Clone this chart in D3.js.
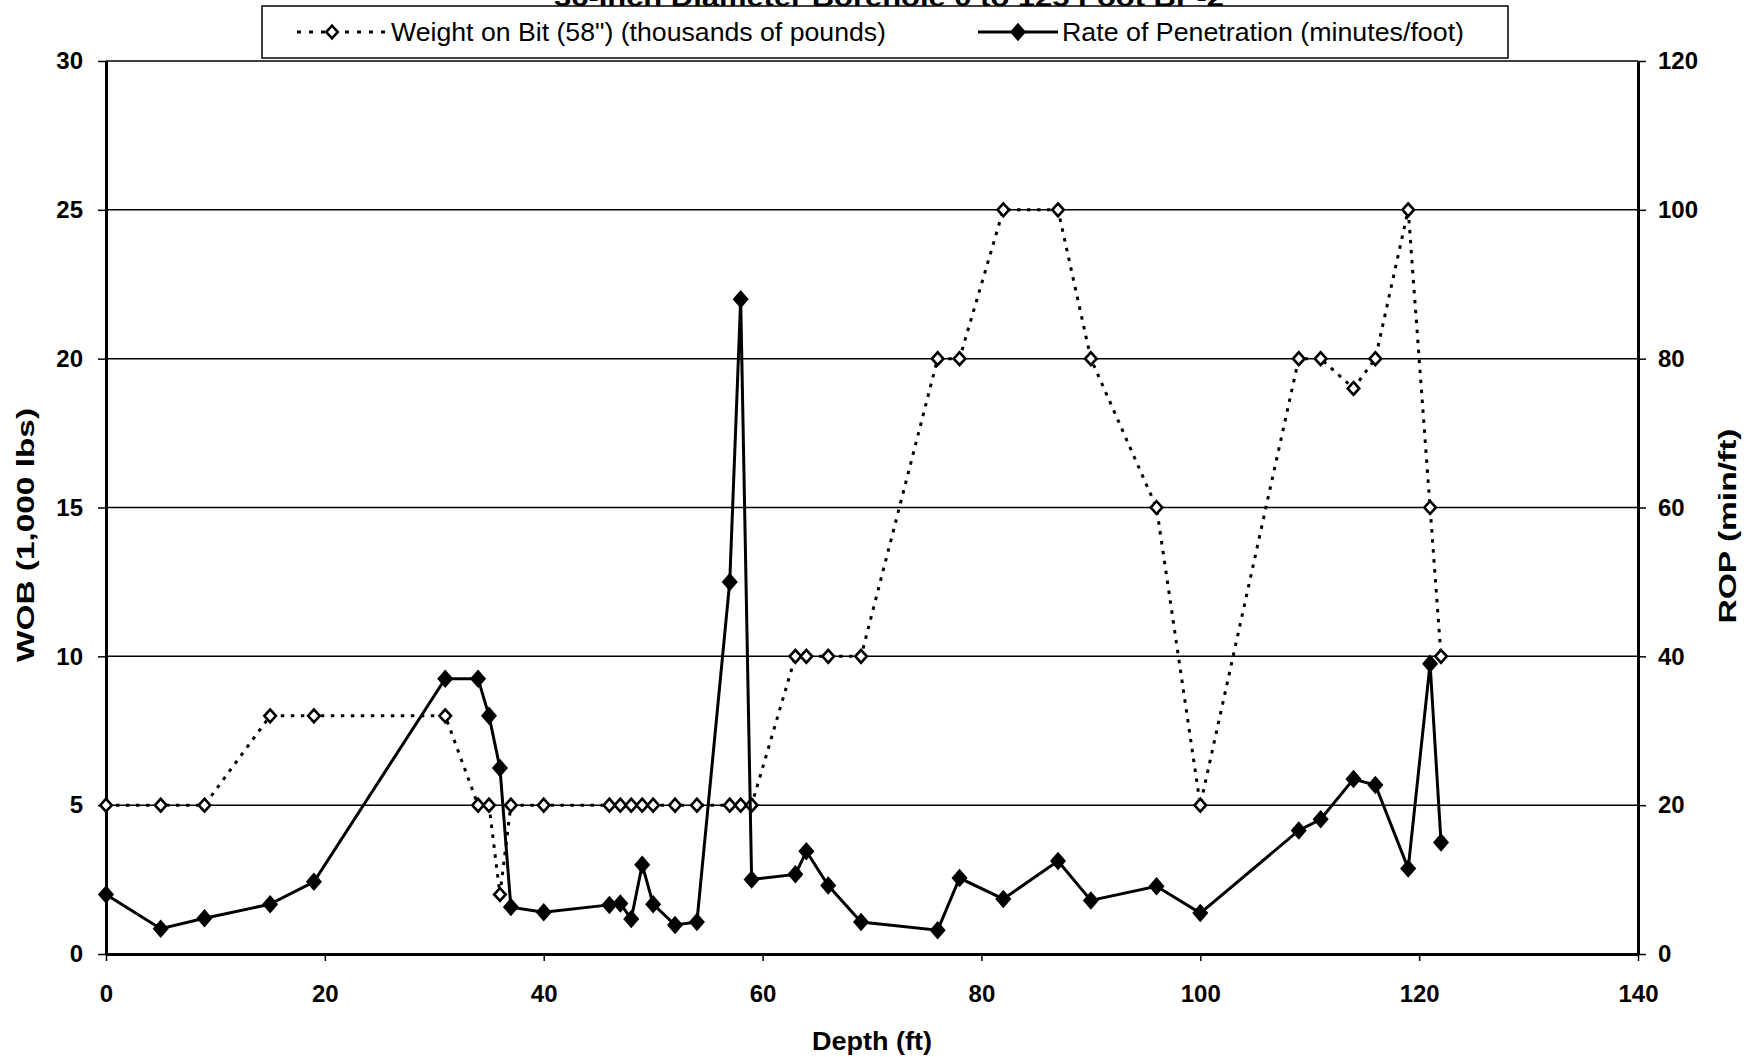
<!DOCTYPE html>
<html>
<head>
<meta charset="utf-8">
<script src="https://cdn.jsdelivr.net/npm/d3@7"></script>
<style>
  body { margin: 0; background: #fff; }
  svg { display: block; font-family: "Liberation Sans", Arial, sans-serif; }
  .grid line { stroke: #000; stroke-width: 1.5; }
  .axis path, .axis line { stroke: #000; }
  .axis path { stroke-width: 3; }
  .axis line { stroke-width: 1.5; }
  .axis text { font-size: 24px; font-weight: bold; fill: #000; font-family: "Liberation Sans", Arial, sans-serif; }
  .title { font-size: 24px; font-weight: bold; }
  .legend text { font-size: 25px; }
</style>
</head>
<body>
<script>
// Depth (ft) for both series
const depth = [0, 5, 9, 15, 19, 31, 34, 35, 36, 37, 40, 46, 47, 48, 49, 50, 52, 54, 57, 58, 59,
  63, 64, 66, 69, 76, 78, 82, 87, 90, 96, 100, 109, 111, 114, 116, 119, 121, 122];

// Weight on bit (1,000 lbs) - left axis
const wob = [5, 5, 5, 8, 8, 8, 5, 5, 2, 5, 5, 5, 5, 5, 5, 5, 5, 5, 5, 5, 5,
  10, 10, 10, 10, 20, 20, 25, 25, 20, 15, 5, 20, 20, 19, 20, 25, 15, 10];

// Rate of penetration (min/ft) - right axis
const rop = [8, 3.4, 4.8, 6.7, 9.7, 37, 37, 32, 25, 6.3, 5.6, 6.6, 6.8, 4.7, 12, 6.7, 3.9, 4.3, 50, 88, 10,
  10.7, 13.8, 9.2, 4.3, 3.2, 10.2, 7.4, 12.5, 7.2, 9.1, 5.5, 16.6, 18.1, 23.5, 22.7, 11.5, 39, 15];

const xTicks = [0, 20, 40, 60, 80, 100, 120, 140];
const wobTicks = [0, 5, 10, 15, 20, 25, 30];
const ropTicks = [0, 20, 40, 60, 80, 100, 120];

const titleText = "36-Inch Diameter Borehole 0 to 125 Foot BP-2";
const seriesNames = ["Weight on Bit (58\") (thousands of pounds)", "Rate of Penetration (minutes/foot)"];

const width = 1747, height = 1057;
const plotLeft = 106, plotRight = 1638, plotTop = 61, plotBottom = 954;

let svg = d3.select("body").append("svg")
    .attr("width", width)
    .attr("height", height);

const x = d3.scaleLinear().domain([0, 140]).range([plotLeft, plotRight]);
const yL = d3.scaleLinear().domain([0, 30]).range([plotBottom, plotTop]);
const yR = d3.scaleLinear().domain([0, 120]).range([plotBottom, plotTop]);

// Title (cut off at the top edge, as in the scan)
svg.append("text")
    .attr("class", "title")
    .attr("x", 889)
    .attr("y", 6)
    .attr("text-anchor", "middle")
    .attr("textLength", 670)
    .attr("lengthAdjust", "spacingAndGlyphs")
    .text(titleText);

// Gridlines
svg.append("g")
    .attr("class", "grid")
    .selectAll("line")
    .data(wobTicks.filter(d => d > 0))
    .join("line")
    .attr("x1", plotLeft)
    .attr("x2", plotRight)
    .attr("y1", d => yL(d))
    .attr("y2", d => yL(d));

// Axes
svg.append("g")
    .attr("class", "axis")
    .attr("transform", `translate(0,${plotBottom})`)
    .call(d3.axisBottom(x).tickValues(xTicks).tickSize(7).tickPadding(24).tickSizeOuter(0));

svg.append("g")
    .attr("class", "axis")
    .attr("transform", `translate(${plotLeft},0)`)
    .call(d3.axisLeft(yL).tickValues(wobTicks).tickSize(8).tickPadding(15).tickSizeOuter(0));

svg.append("g")
    .attr("class", "axis")
    .attr("transform", `translate(${plotRight},0)`)
    .call(d3.axisRight(yR).tickValues(ropTicks).tickSize(8).tickPadding(12).tickSizeOuter(0));

// Axis titles
svg.append("text")
    .attr("x", 872)
    .attr("y", 1050)
    .attr("text-anchor", "middle")
    .attr("font-size", 25)
    .attr("font-weight", "bold")
    .attr("textLength", 120)
    .attr("lengthAdjust", "spacingAndGlyphs")
    .text("Depth (ft)");

svg.append("text")
    .attr("transform", "translate(34,535) rotate(-90)")
    .attr("text-anchor", "middle")
    .attr("font-size", 24)
    .attr("font-weight", "bold")
    .attr("textLength", 254)
    .attr("lengthAdjust", "spacingAndGlyphs")
    .text("WOB (1,000 lbs)");

svg.append("text")
    .attr("transform", "translate(1736,526) rotate(-90)")
    .attr("text-anchor", "middle")
    .attr("font-size", 24)
    .attr("font-weight", "bold")
    .attr("textLength", 195)
    .attr("lengthAdjust", "spacingAndGlyphs")
    .text("ROP (min/ft)");

const diamond = d3.symbol().type(d3.symbolDiamond2);
const dotted = "3.5,6.5";

// WOB series: dotted line, open diamonds
const wobPts = depth.map((d, i) => [d, wob[i]]);
svg.append("path")
    .datum(wobPts)
    .attr("fill", "none")
    .attr("stroke", "#000")
    .attr("stroke-width", 3)
    .attr("stroke-dasharray", dotted)
    .attr("d", d3.line().x(d => x(d[0])).y(d => yL(d[1])));

svg.append("g")
    .selectAll("path")
    .data(wobPts)
    .join("path")
    .attr("transform", d => `translate(${x(d[0])},${yL(d[1])}) scale(1,1.1)`)
    .attr("d", diamond.size(85))
    .attr("fill", "#fff")
    .attr("stroke", "#000")
    .attr("stroke-width", 2.5);

// ROP series: solid line, filled diamonds
const ropPts = depth.map((d, i) => [d, rop[i]]);
svg.append("path")
    .datum(ropPts)
    .attr("fill", "none")
    .attr("stroke", "#000")
    .attr("stroke-width", 3)
    .attr("d", d3.line().x(d => x(d[0])).y(d => yR(d[1])));

svg.append("g")
    .selectAll("path")
    .data(ropPts)
    .join("path")
    .attr("transform", d => `translate(${x(d[0])},${yR(d[1])}) scale(1,1.15)`)
    .attr("d", diamond.size(165))
    .attr("fill", "#000");

// Legend
let legend = svg.append("g").attr("class", "legend");
legend.append("rect")
    .attr("x", 262)
    .attr("y", 6)
    .attr("width", 1246)
    .attr("height", 52)
    .attr("fill", "#fff")
    .attr("stroke", "#000")
    .attr("stroke-width", 1.5);

legend.append("line")
    .attr("x1", 297).attr("x2", 385).attr("y1", 32).attr("y2", 32)
    .attr("stroke", "#000").attr("stroke-width", 3).attr("stroke-dasharray", "4,8");
legend.append("path")
    .attr("transform", "translate(332,32) scale(1,1.1)")
    .attr("d", diamond.size(85))
    .attr("fill", "#fff").attr("stroke", "#000").attr("stroke-width", 2.5);
legend.append("text")
    .attr("x", 391).attr("y", 41)
    .attr("textLength", 495)
    .attr("lengthAdjust", "spacingAndGlyphs")
    .text(seriesNames[0]);

legend.append("line")
    .attr("x1", 978).attr("x2", 1058).attr("y1", 32).attr("y2", 32)
    .attr("stroke", "#000").attr("stroke-width", 3);
legend.append("path")
    .attr("transform", "translate(1018,32) scale(1,1.15)")
    .attr("d", diamond.size(165))
    .attr("fill", "#000");
legend.append("text")
    .attr("x", 1062).attr("y", 41)
    .attr("textLength", 402)
    .attr("lengthAdjust", "spacingAndGlyphs")
    .text(seriesNames[1]);
</script>
</body>
</html>
